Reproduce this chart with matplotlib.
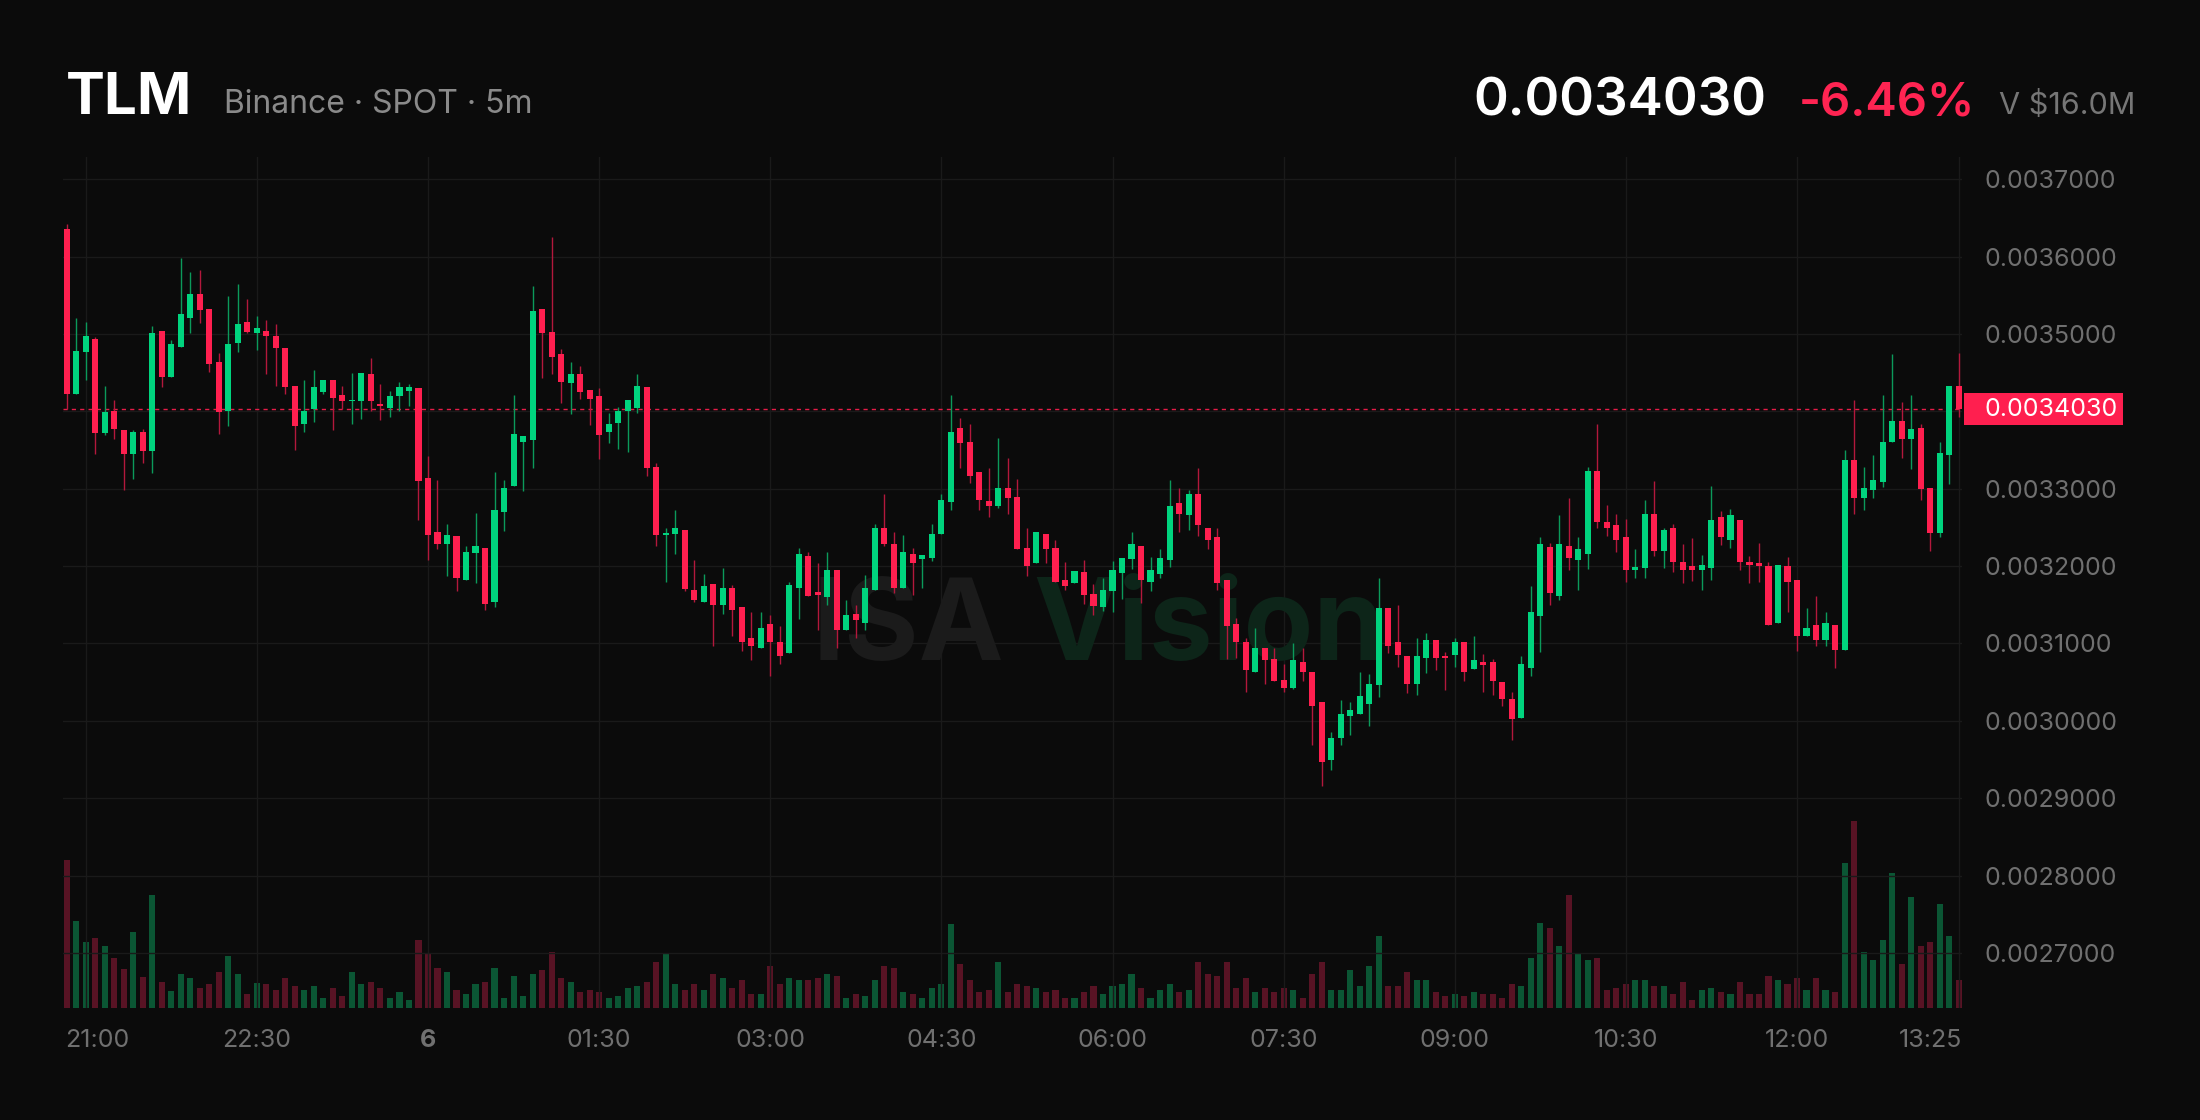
import numpy as np
import matplotlib.pyplot as plt
from matplotlib.patches import Rectangle
from matplotlib.transforms import blended_transform_factory

plt.rcParams['font.family'] = ['Inter', 'DejaVu Sans']

# 5m candles, 20:50 -> 13:25, prices in units of 1e-7
open_ = [36358, 34230, 34770, 34940, 33723, 34007, 33757, 33453, 33737, 33487,
         35041, 34446, 34825, 35210, 35514, 35325, 34635, 34007, 34885, 35156,
         35007, 35041, 34973, 34818, 34331, 33838, 34027, 34250, 34399, 34216,
         34128, 34128, 34480, 34095, 34047, 34196, 34264, 34297, 33135, 32439,
         32291, 32385, 31818, 32169, 32237, 31541, 32696, 33034, 33608, 33635,
         35325, 35020, 34737, 34365, 34480, 34277, 34196, 33737, 33845, 34007,
         34041, 34318, 33284, 32406, 32419, 32473, 31696, 31541, 31764, 31494,
         31716, 31473, 31068, 30939, 31257, 31020, 30872, 31716, 32135, 31662,
         31595, 31946, 31176, 31378, 31270, 31696, 32487, 32284, 31716, 32155,
         32088, 32102, 32419, 32831, 33791, 33602, 33217, 32845, 32777, 33014,
         32899, 32237, 32034, 32419, 32237, 31818, 31777, 31919, 31642, 31473,
         31676, 31912, 32088, 32257, 31797, 31899, 32081, 32811, 32656, 32933,
         32493, 32372, 31818, 31257, 31020, 30635, 30939, 30804, 30527, 30426,
         30764, 30635, 30243, 29500, 29784, 30061, 30095, 30223, 30460, 31460,
         31020, 30838, 30480, 30818, 31041, 30838, 30851, 31020, 30669, 30764,
         30764, 30500, 30277, 30041, 30683, 31358, 32250, 31615, 32257, 32081,
         32155, 33230, 32574, 32527, 32372, 31953, 31980, 32676, 32189, 32493,
         32054, 32000, 31953, 31980, 32629, 32338, 32595, 32054, 32034, 32000,
         31270, 32000, 31818, 31102, 31243, 31041, 31243, 30919, 33372, 32879,
         32980, 33081, 33601, 33878, 33642, 33791, 33014, 32426, 33433, 34331]
high = [36426, 35203, 35156, 34960, 34331, 34142, 33757, 33757, 33777, 35108,
        35041, 34919, 35987, 35798, 35831, 35325, 34757, 35493, 35649, 35446,
        35230, 35176, 35129, 34818, 34331, 34399, 34534, 34399, 34399, 34331,
        34500, 34500, 34689, 34352, 34264, 34379, 34352, 34297, 33419, 33115,
        32541, 32385, 32257, 32689, 32237, 33216, 33115, 34216, 33676, 35615,
        35325, 36257, 34804, 34635, 34581, 34277, 34297, 33973, 34061, 34142,
        34480, 34318, 33338, 32487, 32723, 32473, 32081, 31899, 31764, 31980,
        31750, 31473, 31406, 31406, 31372, 31223, 31797, 32237, 32182, 32034,
        32182, 31946, 31561, 31494, 31879, 32541, 32932, 32439, 32406, 32237,
        32149, 32541, 32926, 34216, 33912, 33838, 33217, 33264, 33656, 33399,
        33128, 32487, 32439, 32419, 32338, 32054, 31932, 32081, 31764, 31852,
        32068, 32101, 32439, 32257, 32122, 32216, 33115, 33014, 32980, 33270,
        32493, 32493, 31818, 31325, 31068, 31203, 30939, 30939, 30737, 31000,
        30939, 30635, 30243, 29851, 30264, 30243, 30628, 30601, 31852, 31460,
        31493, 30838, 31068, 31136, 31041, 30885, 31068, 31020, 31101, 30865,
        30798, 30500, 30378, 30838, 31743, 32372, 32304, 32656, 32878, 32372,
        33284, 33838, 32791, 32676, 32608, 32216, 32858, 33095, 32487, 32541,
        32284, 32358, 32149, 33034, 32710, 32743, 32595, 32135, 32304, 32054,
        32014, 32122, 31818, 31460, 31615, 31406, 31243, 33500, 34149, 33284,
        33439, 34216, 34737, 34115, 34216, 33838, 33014, 33601, 34331, 34757]
low = [34027, 34230, 34399, 33453, 33690, 33636, 32980, 33128, 33331, 33203,
       34318, 34446, 34825, 35007, 35135, 34514, 33710, 33811, 34770, 35007,
       34791, 34480, 34331, 34230, 33500, 33737, 33858, 34230, 33757, 34027,
       33838, 33906, 34007, 33892, 33926, 34007, 34075, 32595, 32081, 32216,
       31878, 31676, 31818, 31777, 31439, 31473, 32453, 33034, 32966, 33271,
       34433, 34487, 34108, 33960, 34162, 33825, 33385, 33588, 33507, 33473,
       33980, 33169, 32257, 31797, 32155, 31676, 31541, 31541, 30966, 31378,
       31101, 30899, 30784, 30939, 30581, 30737, 30872, 31311, 31615, 31176,
       31494, 30939, 31176, 31068, 31176, 31696, 32257, 31649, 31716, 31628,
       31716, 32068, 32419, 32730, 33271, 33068, 32730, 32629, 32757, 32676,
       32216, 31878, 32034, 32034, 31797, 31696, 31777, 31514, 31372, 31426,
       31412, 31574, 31966, 31527, 31676, 31852, 31987, 32439, 32473, 32392,
       32216, 31696, 30804, 30818, 30378, 30635, 30480, 30514, 30378, 30412,
       30514, 29682, 29162, 29365, 29682, 29818, 30095, 29939, 30311, 30872,
       30696, 30358, 30331, 30615, 30662, 30399, 30696, 30514, 30669, 30378,
       30331, 30189, 29757, 30041, 30581, 30885, 31493, 31561, 31953, 31696,
       31966, 32493, 32392, 32182, 31797, 31852, 31852, 32135, 31980, 31919,
       31777, 31811, 31696, 31818, 32270, 32236, 31946, 31777, 31797, 31243,
       31270, 31406, 30899, 31102, 30973, 30973, 30683, 30919, 32676, 32730,
       32879, 33027, 33601, 33399, 33250, 32858, 32189, 32372, 33061, 33926]
close = [34230, 34784, 34973, 33723, 33993, 33770, 33453, 33737, 33487, 35007,
         34446, 34872, 35257, 35514, 35311, 34615, 33993, 34872, 35122, 35027,
         35075, 34973, 34818, 34311, 33811, 34007, 34311, 34399, 34176, 34128,
         34149, 34500, 34128, 34075, 34196, 34311, 34311, 33095, 32405, 32291,
         32406, 31851, 32183, 32257, 31514, 32723, 33014, 33710, 33676, 35291,
         35007, 34703, 34385, 34480, 34250, 34162, 33690, 33838, 34007, 34142,
         34331, 33270, 32406, 32426, 32493, 31710, 31561, 31743, 31494, 31716,
         31439, 31020, 30966, 31203, 31020, 30838, 31750, 32155, 31615, 31628,
         31946, 31176, 31372, 31304, 31716, 32493, 32284, 31716, 32183, 32034,
         32149, 32419, 32858, 33737, 33588, 33169, 32858, 32777, 33014, 32879,
         32216, 32000, 32439, 32216, 31797, 31743, 31932, 31628, 31480, 31696,
         31946, 32101, 32284, 31818, 31946, 32102, 32777, 32676, 32933, 32527,
         32338, 31777, 31223, 31020, 30662, 30939, 30784, 30514, 30426, 30784,
         30635, 30196, 29466, 29784, 30088, 30142, 30324, 30480, 31460, 30973,
         30851, 30480, 30838, 31041, 30818, 30818, 31020, 30635, 30784, 30716,
         30514, 30277, 30020, 30736, 31406, 32291, 31649, 32291, 32101, 32216,
         33230, 32574, 32493, 32338, 31953, 31987, 32676, 32189, 32473, 32054,
         31953, 31953, 32020, 32595, 32372, 32656, 32054, 32014, 32000, 31243,
         32014, 31797, 31102, 31203, 31041, 31270, 30919, 33372, 32879, 33014,
         33115, 33601, 33878, 33642, 33777, 32993, 32426, 33466, 34331, 34030]
volume = [283, 167, 127, 133, 118, 95, 75, 145, 60, 217,
          50, 33, 65, 57, 38, 45, 69, 99, 65, 27,
          47, 46, 35, 57, 43, 34, 42, 20, 38, 23,
          69, 46, 50, 38, 20, 31, 15, 130, 103, 76,
          69, 34, 27, 46, 50, 76, 20, 61, 23, 65,
          73, 107, 57, 50, 31, 34, 31, 19, 23, 38,
          42, 50, 88, 103, 46, 34, 46, 34, 65, 57,
          38, 53, 27, 27, 80, 46, 57, 53, 53, 57,
          65, 61, 19, 27, 23, 53, 80, 76, 31, 27,
          19, 38, 46, 160, 84, 53, 31, 34, 88, 31,
          46, 42, 38, 31, 34, 19, 19, 31, 42, 27,
          42, 46, 65, 38, 19, 34, 46, 31, 34, 88,
          65, 61, 88, 38, 57, 31, 38, 31, 38, 34,
          19, 65, 88, 34, 34, 73, 42, 80, 137, 42,
          42, 69, 53, 53, 31, 23, 27, 23, 31, 27,
          27, 19, 46, 42, 95, 163, 153, 118, 217, 103,
          92, 95, 34, 38, 46, 53, 53, 42, 42, 27,
          50, 15, 34, 38, 31, 27, 50, 27, 27, 61,
          53, 46, 57, 34, 57, 34, 31, 278, 358, 107,
          92, 130, 259, 84, 213, 118, 127, 198, 137, 53]

tick_idx = [2, 20, 38, 56, 74, 92, 110, 128, 146, 164, 182, 199]
tick_lab = ['21:00', '22:30', '6', '01:30', '03:00', '04:30', '06:00',
            '07:30', '09:00', '10:30', '12:00', '13:25']
price_ticks = [0.0027, 0.0028, 0.0029, 0.0030, 0.0031, 0.0032,
               0.0033, 0.0034, 0.0035, 0.0036, 0.0037]

o = np.array(open_) * 1e-7
h = np.array(high) * 1e-7
l = np.array(low) * 1e-7
c = np.array(close) * 1e-7
v = np.array(volume)
x = np.arange(len(c))
up = c >= o
last = c[-1]

BG = '#0b0b0b'
GREEN, RED = '#00d47e', '#ff1f4f'
GREEN_W, RED_W = '#0b9a5b', '#b3183c'
VGREEN, VRED = '#0b5634', '#581324'
GRID = '#1a1a1a'
LABEL = '#707070'

fig = plt.figure(figsize=(22, 11.2), dpi=100, facecolor=BG)
rect = [0.0286, 0.1, 0.8632, 0.7598]
vax = fig.add_axes(rect)
ax = fig.add_axes(rect)
ax.set_zorder(vax.get_zorder() + 1)
ax.patch.set_visible(False)
vax.set_facecolor(BG)

# volume
vax.bar(x, v, width=0.64, color=np.where(up, VGREEN, VRED), linewidth=0)
vax.set_ylim(0, 1627)
vax.set_xlim(-0.4, 199.35)
vax.axis('off')

# candles
ax.vlines(x, l, h, colors=np.where(up, GREEN_W, RED_W), linewidth=1.0, zorder=2)
body = np.maximum(np.abs(c - o), 2.2e-6)
ax.bar(x, body, bottom=np.minimum(o, c), width=0.64,
       color=np.where(up, GREEN, RED), linewidth=0, zorder=3)

ax.set_xlim(-0.4, 199.35)
ax.set_ylim(0.002629, 0.0037286)

# grid
ax.set_axisbelow(True)
ax.set_xticks(tick_idx)
ax.set_yticks(price_ticks)
ax.grid(True, color=GRID, linewidth=1.0)
for s in ax.spines.values():
    s.set_visible(False)

# the label next to the last price is hidden by the price tag
ax.yaxis.tick_right()
ax.set_yticklabels(['' if abs(p - last) < 0.00002 else f'{p:.7f}'
                    for p in price_ticks])
ax.tick_params(axis='y', length=0, pad=16.5, labelsize=18, labelcolor=LABEL)
ax.tick_params(axis='x', length=0, labelbottom=False)

# time labels (edge labels kept inside the plot width)
tb = blended_transform_factory(ax.transData, ax.transAxes)
for i, (pos, lab) in enumerate(zip(tick_idx, tick_lab)):
    kw = dict(fontsize=18, color=LABEL, va='baseline',
              fontweight='bold' if lab == '6' else 'normal')
    if i == 0:
        ax.text(0.001, -0.0458, lab, transform=ax.transAxes, ha='left', **kw)
    elif i == len(tick_idx) - 1:
        ax.text(1.0, -0.0458, lab, transform=ax.transAxes, ha='right', **kw)
    else:
        ax.text(pos, -0.0458, lab, transform=tb, ha='center', **kw)

# last price line + tag
ax.axhline(last, color=RED, linewidth=1.0, dashes=(3, 3), zorder=1.5, alpha=0.9)
pb = blended_transform_factory(ax.transAxes, ax.transData)
ax.add_patch(Rectangle((1.0011, last - 0.0000213), 0.0837, 0.0000426,
                       transform=pb, facecolor=RED, edgecolor='none',
                       clip_on=False, zorder=5))
ax.text(1.0121, last, f'{last:.7f}', transform=pb, ha='left', va='center',
        fontsize=18, color='white', zorder=6)

# watermark
ax.text(0.3695, 0.4107, 'ISA', transform=fig.transFigure, fontsize=82,
        fontweight='bold', color='#1b1b1b', va='baseline', ha='left', zorder=1)
ax.text(0.4695, 0.4107, 'Vision', transform=fig.transFigure, fontsize=82,
        fontweight='bold', color='#0d2519', va='baseline', ha='left', zorder=1)

# header
fig.text(0.030, 0.898, 'TLM', fontsize=42, fontweight='bold', color='white',
         va='baseline', ha='left')
fig.text(0.1018, 0.899, 'Binance \u00b7 SPOT \u00b7 5m', fontsize=23,
         color='#8a8a8a', va='baseline', ha='left')
fig.text(0.6695, 0.897, f'{last:.7f}', fontsize=38, fontweight='semibold',
         color='white', va='baseline', ha='left')
fig.text(0.8177, 0.897, '-6.46%', fontsize=34, fontweight='semibold',
         color='#ff2452', va='baseline', ha='left')
fig.text(0.9705, 0.898, 'V $16.0M', fontsize=22, color='#767676',
         va='baseline', ha='right')

fig.savefig('out.png', dpi=100, facecolor=BG)
